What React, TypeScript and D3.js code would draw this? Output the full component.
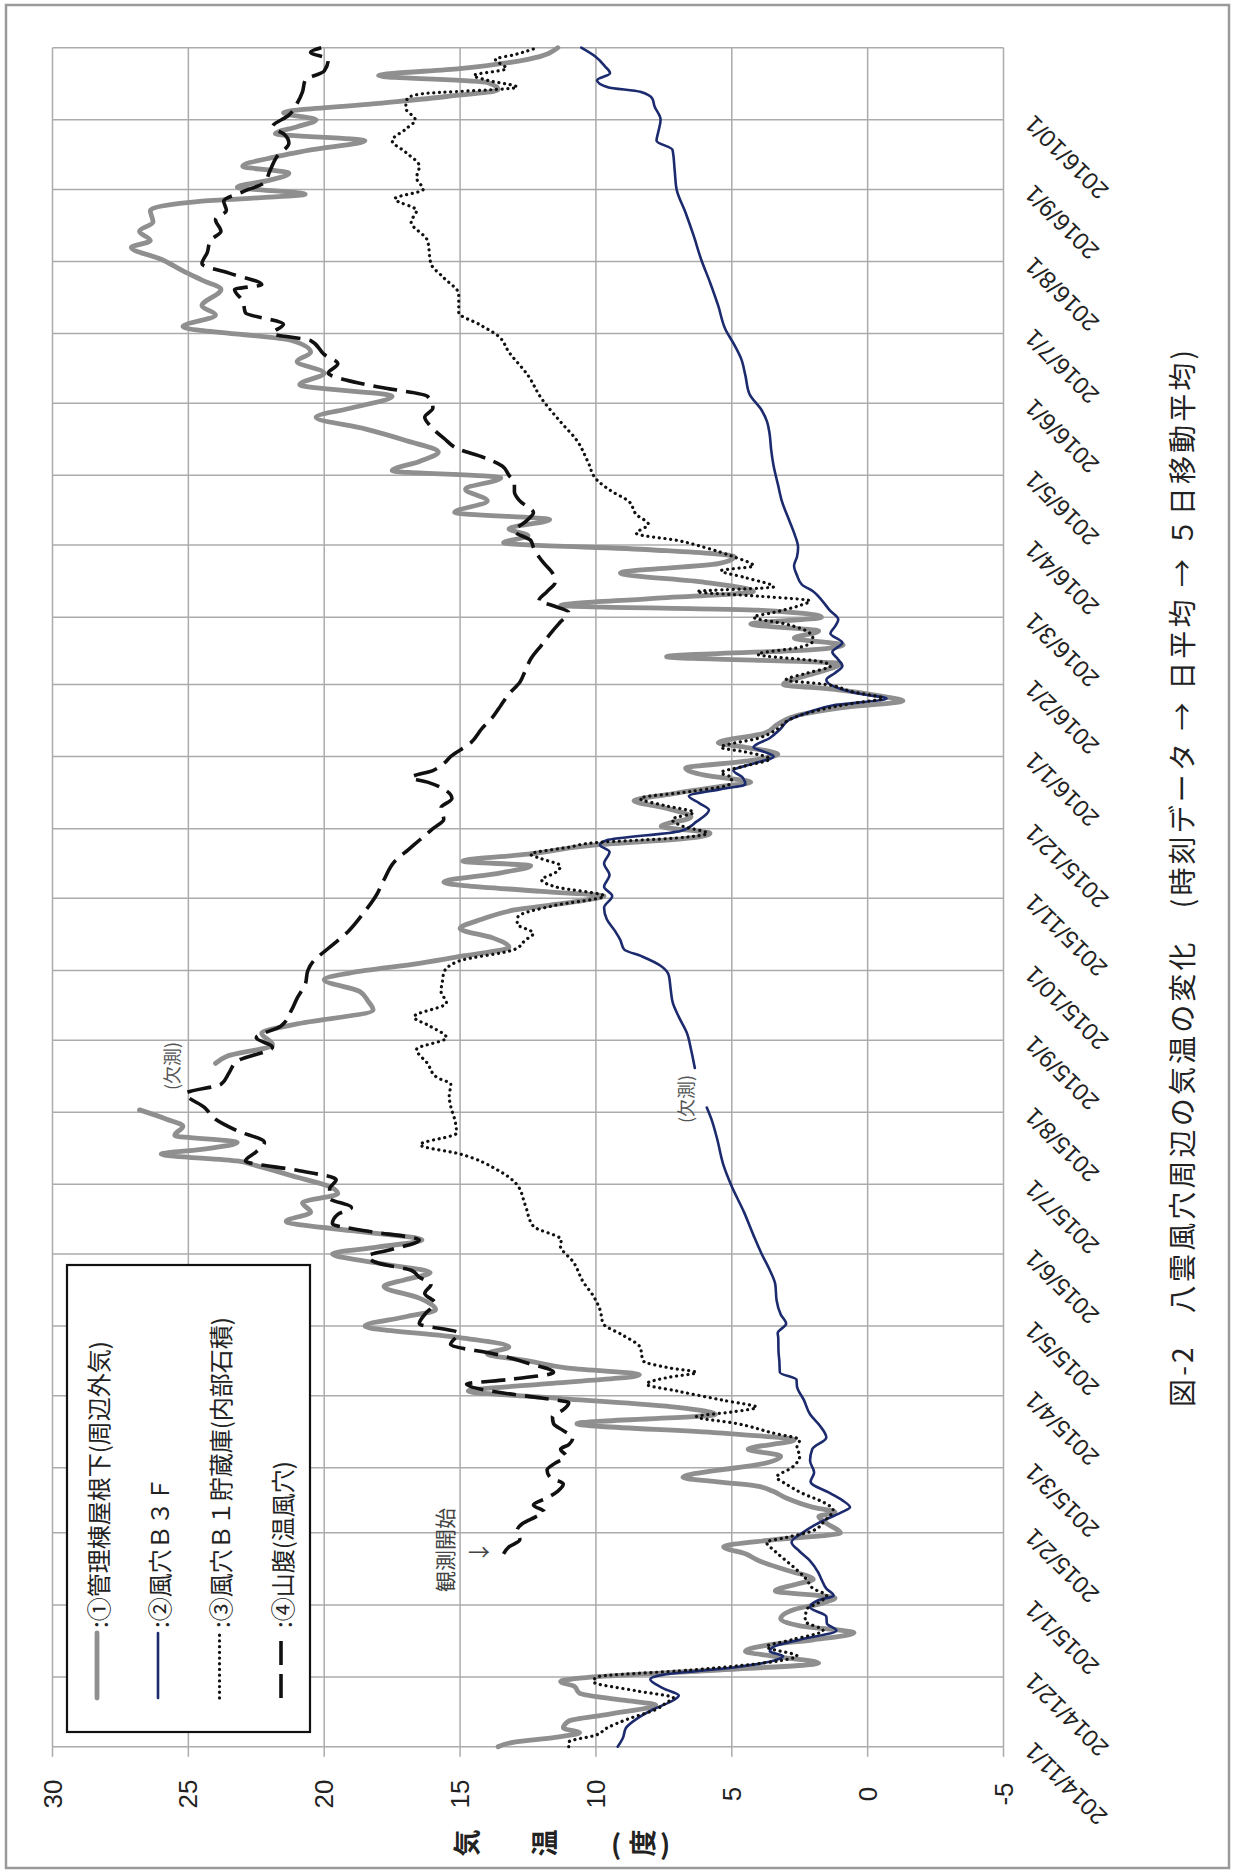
import React from 'react';
import * as d3 from 'd3';

type Pt = [number, number | null]; // [days since 2014/11/1, °C]

const START = new Date(2014, 10, 1);
const END = new Date(2016, 10, 1);

const tempTicks = [30, 25, 20, 15, 10, 5, 0, -5];

// ① 管理棟屋根下(周辺外気)
const outsideAir: Pt[] = [
  [0, 13.6], [2, 13.0], [4, 11.5], [6, 10.6], [8, 11.2], [11, 11.0], [14, 9.5], [18, 7.8], [20, 9.0],
  [23, 10.6], [26, 10.8], [28, 11.3], [30, 10.1], [33, 5.5], [36, 1.8], [39, 3.5], [41, 4.5], [44, 3.5],
  [46, 2.0], [49, 0.5], [52, 2.5], [55, 3.2], [59, 2.7], [62, 1.6], [64, 1.2], [67, 3.4], [70, 2.6],
  [72, 2.0], [76, 3.0], [80, 4.0], [83, 4.5], [86, 5.3], [89, 3.5], [92, 1.0], [96, 1.5], [99, 1.8],
  [101, 1.2], [103, 2.0], [107, 3.0], [110, 3.5], [112, 4.0], [116, 6.8], [119, 5.5], [121, 4.2],
  [125, 3.2], [128, 4.4], [132, 2.7], [135, 5.5], [139, 10.7], [143, 5.6], [146, 7.0], [150, 11.5],
  [153, 14.7], [156, 12.0], [160, 8.4], [163, 11.1], [166, 12.5], [169, 14.0], [172, 13.2], [176, 15.0],
  [181, 18.5], [185, 17.0], [188, 15.9], [193, 16.5], [198, 17.8], [201, 17.0], [204, 16.1], [208, 18.0],
  [212, 19.7], [215, 18.0], [218, 16.4], [222, 19.0], [226, 21.4], [230, 20.5], [234, 20.8], [238, 19.5],
  [241, 19.8], [245, 21.0], [250, 22.5], [252, 23.2], [255, 26.0], [257, 24.5], [260, 23.2], [263, 25.5],
  [267, 25.2], [270, 25.8], [274, 26.8], [275, null], [293, null], [294, 24.0], [297, 23.6], [302, 21.9],
  [307, 22.3], [311, 21.0], [317, 18.2], [321, 18.4], [325, 18.7], [330, 20.0], [333, 19.0], [337, 16.5],
  [340, 15.0], [344, 13.2], [348, 13.8], [352, 15.0], [356, 14.2], [360, 13.0], [364, 10.5], [366, 9.7],
  [368, 12.0], [372, 15.6], [376, 13.5], [379, 12.4], [381, 14.9], [384, 12.5], [388, 10.0], [391, 6.5],
  [393, 5.8], [396, 7.6], [400, 6.5], [404, 7.5], [407, 8.6], [410, 7.2], [413, 5.5], [415, 4.3],
  [418, 6.0], [421, 6.7], [424, 4.5], [427, 3.3], [430, 4.5], [432, 5.5], [436, 3.8], [440, 3.3],
  [444, 2.5], [447, 1.0], [450, -1.3], [452, -0.5], [455, 1.3], [457, 3.1], [460, 2.5], [463, 1.6],
  [466, 1.0], [469, 7.4], [472, 2.0], [474, 0.9], [477, 2.7], [480, 1.8], [483, 4.3], [486, 1.7],
  [489, 4.0], [491, 11.3], [494, 8.0], [497, 4.2], [501, 6.0], [505, 9.1], [509, 5.5], [512, 4.9],
  [515, 8.0], [518, 13.4], [521, 12.5], [524, 13.2], [528, 11.7], [531, 15.2], [536, 14.0], [541, 14.8],
  [546, 13.5], [549, 17.5], [553, 16.5], [557, 15.8], [562, 17.0], [567, 18.5], [572, 20.3], [576, 19.0],
  [581, 17.5], [586, 20.9], [591, 20.0], [596, 21.0], [600, 20.5], [605, 21.2], [611, 25.2], [616, 24.0],
  [620, 24.5], [627, 23.8], [631, 24.5], [635, 25.2], [640, 26.0], [645, 27.1], [648, 26.4], [652, 26.8],
  [656, 26.3], [661, 26.4], [665, 24.5], [668, 20.7], [671, 23.2], [674, 22.0], [677, 21.3], [680, 23.0],
  [684, 21.8], [687, 20.5], [691, 18.5], [694, 21.8], [697, 21.0], [700, 20.3], [703, 21.5], [707, 18.0],
  [710, 15.5], [713, 13.6], [716, 14.0], [719, 18.0], [722, 15.0], [726, 12.5], [731, 11.4],
];

// ② 風穴Ｂ３Ｆ
const caveB3F: Pt[] = [
  [0, 9.2], [4, 9.0], [8, 8.9], [12, 8.5], [16, 7.9], [20, 7.15], [22, 6.95], [25, 7.5], [29, 8.0],
  [31, 7.5], [34, 5.0], [37, 3.47], [39, 3.11], [41, 3.6], [43, 3.46], [46, 2.5], [50, 1.15], [53, 1.5],
  [56, 1.52], [60, 2.12], [63, 1.82], [65, 1.25], [68, 1.52], [72, 1.7], [75, 1.82], [80, 2.12], [84, 2.5],
  [88, 2.8], [92, 2.4], [95, 2.0], [98, 1.5], [101, 0.93], [103, 0.65], [106, 0.93], [109, 1.37],
  [114, 2.1], [118, 1.97], [123, 2.12], [128, 2.04], [133, 1.52], [138, 1.75], [143, 2.12], [149, 2.34],
  [155, 2.6], [158, 2.62], [161, 3.23], [166, 3.25], [170, 3.28], [176, 3.29], [178, 3.31], [182, 3.0],
  [186, 3.2], [192, 3.35], [199, 3.4], [205, 3.6], [212, 3.9], [220, 4.2], [230, 4.55], [241, 5.0],
  [250, 5.3], [262, 5.55], [270, 5.75], [275, 5.92], [276, null], [291, null], [292, 6.36], [300, 6.5],
  [307, 6.65], [314, 6.95], [320, 7.17], [326, 7.25], [332, 7.32], [336, 7.62], [340, 8.3], [343, 8.96],
  [347, 9.1], [351, 9.3], [356, 9.6], [361, 9.7], [366, 9.4], [370, 9.7], [375, 9.5], [380, 9.7],
  [385, 9.5], [388, 9.85], [390, 9.6], [394, 6.88], [398, 6.3], [403, 5.84], [406, 6.2], [409, 6.58],
  [412, 5.4], [414, 4.5], [417, 4.6], [420, 4.94], [423, 4.2], [426, 3.46], [428, 3.8], [430, 4.2],
  [434, 3.6], [438, 3.2], [442, 2.86], [445, 2.2], [448, 1.3], [451, -0.7], [453, 0.3], [456, 1.2],
  [459, 1.52], [462, 1.2], [465, 0.93], [468, 1.1], [471, 1.3], [475, 0.93], [479, 1.37], [482, 1.2],
  [485, 1.08], [489, 1.4], [493, 1.67], [497, 2.0], [500, 2.42], [504, 2.6], [508, 2.71], [512, 2.6],
  [516, 2.56], [522, 2.7], [528, 2.9], [536, 3.16], [543, 3.3], [551, 3.46], [558, 3.55], [565, 3.61],
  [570, 3.7], [575, 3.9], [582, 4.35], [590, 4.5], [597, 4.65], [603, 4.9], [610, 5.24], [620, 5.5],
  [630, 5.8], [640, 6.13], [650, 6.4], [660, 6.7], [670, 7.03], [678, 7.1], [687, 7.18], [691, 7.77],
  [695, 7.7], [700, 7.62], [706, 7.85], [709, 7.92], [712, 8.37], [714, 9.56], [717, 9.96], [720, 9.48],
  [723, 9.67], [727, 10.0], [731, 10.54],
];

// ③ 風穴Ｂ１貯蔵庫(内部石積)
const caveB1Store: Pt[] = [
  [0, 11.0], [2, 11.0], [5, 10.0], [8, 9.6], [12, 8.8], [16, 7.8], [19, 7.4], [21, 7.15], [24, 8.5],
  [28, 10.1], [30, 9.97], [33, 6.5], [37, 3.23], [39, 2.6], [43, 3.72], [46, 2.8], [50, 1.64], [54, 2.3],
  [59, 2.25], [62, 1.8], [65, 1.51], [68, 2.0], [72, 2.25], [76, 2.6], [80, 3.0], [84, 3.4], [88, 3.72],
  [90, 3.0], [93, 2.0], [97, 1.6], [102, 1.27], [105, 1.6], [109, 2.4], [113, 3.0], [116, 3.35], [120, 2.8],
  [125, 2.5], [129, 2.6], [132, 2.5], [135, 3.5], [139, 4.8], [142, 6.3], [144, 5.0], [146, 4.09],
  [149, 5.3], [153, 7.0], [156, 8.14], [159, 7.3], [161, 6.3], [163, 7.3], [166, 8.26], [172, 8.38],
  [177, 9.0], [182, 9.73], [188, 9.85], [194, 10.1], [200, 10.47], [208, 10.8], [216, 11.32], [218, 11.27],
  [224, 12.31], [233, 12.6], [242, 12.92], [248, 13.6], [255, 15.0], [259, 16.47], [264, 15.13],
  [270, 15.2], [274, 15.31], [280, 15.4], [285, 15.34], [288, 15.86], [294, 16.2], [300, 16.6],
  [305, 15.5], [310, 16.1], [314, 16.7], [320, 15.5], [325, 15.7], [330, 15.64], [333, 15.6],
  [338, 15.05], [343, 13.0], [347, 12.6], [350, 12.3], [354, 12.9], [357, 12.87], [362, 11.5],
  [366, 9.7], [370, 11.5], [373, 12.0], [376, 11.5], [379, 11.3], [382, 12.0], [384, 12.4], [387, 11.0],
  [389, 10.0], [391, 7.0], [393, 5.9], [396, 6.8], [399, 7.2], [402, 6.4], [405, 7.5], [408, 8.37],
  [411, 6.5], [414, 5.1], [417, 5.0], [419, 5.4], [422, 4.5], [425, 3.6], [428, 4.5], [430, 5.4],
  [434, 4.0], [438, 3.3], [442, 2.86], [446, 1.8], [449, 0.5], [451, -0.56], [454, 0.6], [457, 1.52],
  [459, 3.0], [462, 2.2], [465, 1.37], [467, 1.8], [470, 4.05], [473, 2.5], [476, 2.0], [479, 2.12],
  [483, 3.0], [486, 4.2], [488, 3.46], [491, 2.5], [493, 2.12], [495, 4.0], [497, 6.28], [499, 3.46],
  [503, 4.5], [506, 5.39], [508, 4.2], [512, 4.94], [516, 6.0], [519, 7.0], [522, 8.51], [526, 8.07],
  [530, 8.5], [536, 8.81], [540, 9.4], [545, 9.96], [553, 10.3], [562, 10.7], [570, 11.3], [580, 12.0],
  [590, 12.5], [600, 13.2], [607, 13.6], [612, 14.3], [617, 15.05], [625, 15.05], [632, 15.6],
  [638, 16.07], [648, 16.2], [656, 16.8], [661, 16.6], [666, 17.4], [670, 16.36], [675, 16.6],
  [680, 16.5], [686, 17.0], [691, 17.5], [696, 17.0], [700, 16.65], [705, 17.0], [709, 16.95],
  [711, 16.5], [714, 12.9], [717, 14.0], [719, 14.5], [722, 13.3], [726, 13.7], [728, 13.0], [731, 12.15],
];

// ④ 山腹(温風穴)  (observation starts 2015/1/23)
const hillside: Pt[] = [
  [83, 13.4], [86, 13.2], [89, 12.8], [93, 12.9], [96, 12.7], [99, 12.2], [101, 11.9], [104, 12.3],
  [107, 11.8], [110, 11.4], [113, 11.2], [116, 11.7], [119, 11.8], [122, 11.5], [125, 11.1], [128, 11.3],
  [130, 11.0], [133, 10.85], [136, 11.2], [139, 11.56], [142, 11.6], [145, 11.2], [148, 11.0], [150, 12.0],
  [152, 13.3], [156, 14.76], [158, 13.2], [161, 11.56], [165, 12.5], [169, 13.74], [173, 15.35],
  [178, 15.05], [182, 16.5], [186, 16.3], [191, 15.93], [195, 16.3], [199, 16.07], [202, 16.5],
  [205, 16.8], [208, 18.0], [211, 18.4], [214, 17.5], [218, 16.5], [222, 18.5], [225, 19.7], [229, 19.5],
  [232, 19.0], [236, 19.8], [240, 19.8], [244, 19.56], [248, 21.0], [252, 22.9], [256, 22.5],
  [260, 22.2], [265, 23.2], [270, 24.0], [275, 24.4], [281, 25.1], [285, 23.8], [290, 23.5], [295, 23.2],
  [301, 21.9], [305, 22.5], [310, 21.6], [317, 21.2], [322, 21.0], [328, 20.7], [334, 20.6], [338, 20.4],
  [343, 19.9], [351, 19.1], [358, 18.6], [366, 18.1], [373, 17.8], [381, 17.4], [386, 16.9], [390, 16.5],
  [395, 16.0], [399, 15.6], [404, 15.7], [408, 15.3], [412, 15.6], [415, 16.2], [417, 16.8], [420, 16.0],
  [423, 15.6], [426, 15.35], [432, 14.6], [438, 14.2], [443, 13.8], [448, 13.5], [453, 13.2], [458, 12.8],
  [463, 12.6], [468, 12.4], [474, 12.0], [480, 11.6], [484, 11.3], [488, 11.0], [491, 11.6], [493, 12.1],
  [497, 11.8], [501, 11.5], [505, 11.6], [509, 11.9], [512, 12.1], [516, 12.3], [519, 12.4], [523, 13.0],
  [527, 12.6], [531, 12.3], [536, 12.8], [540, 13.0], [544, 13.0], [547, 13.2], [551, 13.45], [555, 14.2],
  [558, 15.0], [563, 15.6], [568, 16.07], [572, 16.3], [576, 16.0], [581, 16.2], [585, 18.0], [588, 19.2],
  [591, 19.85], [595, 19.5], [599, 20.0], [605, 20.5], [608, 21.9], [612, 21.5], [617, 22.9], [622, 23.0],
  [627, 23.3], [629, 22.3], [634, 23.5], [638, 24.5], [643, 24.3], [648, 24.2], [652, 23.8], [657, 24.0],
  [661, 23.6], [665, 23.7], [669, 23.0], [673, 22.2], [678, 22.0], [684, 21.75], [690, 21.3], [694, 21.5],
  [697, 21.9], [702, 21.3], [707, 21.0], [712, 20.8], [717, 20.7], [721, 20.0], [726, 19.85], [729, 20.5],
  [731, 20.1],
];

const legendLabels = [
  ':①管理棟屋根下(周辺外気)',
  ':②風穴Ｂ３Ｆ',
  ':③風穴Ｂ１貯蔵庫(内部石積)',
  ':④山腹(温風穴)',
];

const titleText = '図-2　八雲風穴周辺の気温の変化　(時刻データ → 日平均 → ５日移動平均)';
const axisTitleChars = ['気', '温', '(', '度', ')'];

const JP = '"Noto Sans CJK JP", "Noto Sans", sans-serif';
const NUM = '"Liberation Sans", Arial, sans-serif';

const seriesStyles = [
  { data: outsideAir, stroke: '#8f8f8f', width: 4.8, dash: undefined as string | undefined, cap: 'round' },
  { data: caveB3F, stroke: '#1c2a6e', width: 2.6, dash: undefined, cap: 'round' },
  { data: caveB1Store, stroke: '#111', width: 3.2, dash: '0.1 5.6', cap: 'round' },
  { data: hillside, stroke: '#111', width: 3.6, dash: '24 9', cap: 'butt' },
];

export default function App() {
  const W = 1234;
  const H = 1874;

  // chart is drawn rotated: temperature runs right-to-left, dates bottom-to-top
  const x = d3.scaleLinear().domain([-5, 30]).range([1003.5, 52.5]);
  const y = d3.scaleTime().domain([START, END]).range([1746.7, 47.7]);
  const toDate = (d: number) => d3.timeDay.offset(START, d);

  const months = d3.timeMonth.range(START, d3.timeDay.offset(END, 1));
  const labelMonths = months.slice(0, -1);
  const fmt = (d: Date) => `${d.getFullYear()}/${d.getMonth() + 1}/1`;

  const line = d3
    .line<Pt>()
    .defined((d) => d[1] !== null)
    .x((d) => x(d[1] as number))
    .y((d) => y(toDate(d[0])))
    .curve(d3.curveMonotoneY);

  const [xL, xR] = [x(30), x(-5)];
  const [yB, yT] = [y(START), y(END)];

  const legendX = [97, 158, 219.5, 281];
  const legendSample = (i: number) => {
    const s = seriesStyles[i];
    return (
      <line
        key={'ls' + i}
        x1={legendX[i]}
        x2={legendX[i]}
        y1={1698}
        y2={1633}
        stroke={s.stroke}
        strokeWidth={s.width}
        strokeDasharray={s.dash}
        strokeLinecap={s.cap as any}
      />
    );
  };

  const axisTitleX = [465, 543, 616, 641, 665];

  return (
    <svg
      width={W}
      height={H}
      style={{ position: 'absolute', left: 0, top: 0, background: '#fff' }}
    >
      <rect x={6} y={5} width={1223} height={1863} fill="#fff" stroke="#9a9a9a" strokeWidth={2.5} />

      {/* grid: temperature lines (with tick stubs below) */}
      {tempTicks.map((t) => (
        <line key={'v' + t} x1={x(t)} x2={x(t)} y1={yT} y2={yB + 10} stroke="#ababab" strokeWidth={1.5} />
      ))}
      {/* grid: months */}
      {months.map((m) => (
        <line key={'h' + m.getTime()} x1={xL} x2={xR} y1={y(m)} y2={y(m)} stroke="#ababab" strokeWidth={1.5} />
      ))}

      {/* temperature tick labels */}
      {tempTicks.map((t) => (
        <text
          key={'tl' + t}
          x={x(t)}
          y={1794}
          transform={`rotate(-90 ${x(t)} 1794)`}
          textAnchor="middle"
          dominantBaseline="central"
          fontFamily={NUM}
          fontSize={26}
          fill="#222"
        >
          {t}
        </text>
      ))}

      {/* date labels */}
      {labelMonths.map((m) => {
        const px = xR + 25;
        const py = y(m);
        return (
          <text
            key={'dl' + m.getTime()}
            x={px}
            y={py}
            transform={`rotate(-135 ${px} ${py})`}
            textAnchor="end"
            dominantBaseline="central"
            fontFamily={NUM}
            fontSize={24}
            fill="#222"
          >
            {fmt(m)}
          </text>
        );
      })}

      {/* axis title, stacked characters */}
      {axisTitleChars.map((c, i) => {
        const cx = axisTitleX[i];
        const rot = c === '(' || c === ')' ? '' : `rotate(-90 ${cx} 1843)`;
        return (
          <text
            key={'at' + i}
            x={cx}
            y={1843}
            transform={rot}
            textAnchor="middle"
            dominantBaseline="central"
            fontFamily={JP}
            fontSize={27}
            fontWeight="bold"
            fill="#222"
          >
            {c}
          </text>
        );
      })}

      {/* series */}
      {seriesStyles.map((s, i) => (
        <path
          key={'s' + i}
          d={line(s.data) || ''}
          fill="none"
          stroke={s.stroke}
          strokeWidth={s.width}
          strokeDasharray={s.dash}
          strokeLinecap={s.cap as any}
          strokeLinejoin="round"
        />
      ))}

      {/* annotations */}
      <text x={171} y={1066} transform="rotate(-90 171 1066)" textAnchor="middle" dominantBaseline="central"
        fontFamily={JP} fontSize={18} fill="#555">(欠測)</text>
      <text x={685} y={1099} transform="rotate(-90 685 1099)" textAnchor="middle" dominantBaseline="central"
        fontFamily={JP} fontSize={18} fill="#555">(欠測)</text>
      <text x={444} y={1550} transform="rotate(-90 444 1550)" textAnchor="middle" dominantBaseline="central"
        fontFamily={JP} fontSize={21} fill="#444">観測開始</text>
      <text x={479} y={1550} textAnchor="middle" dominantBaseline="central" fontFamily={JP} fontSize={22} fill="#444">
        →
      </text>

      {/* legend */}
      <rect x={67} y={1265} width={243} height={467} fill="#fff" stroke="#111" strokeWidth={2.2} />
      {legendLabels.map((_, i) => legendSample(i))}
      {legendLabels.map((lab, i) => (
        <text
          key={'lt' + i}
          x={legendX[i]}
          y={1628}
          transform={`rotate(-90 ${legendX[i]} 1628)`}
          textAnchor="start"
          dominantBaseline="central"
          fontFamily={JP}
          fontSize={24}
          fill="#222"
        >
          {lab}
        </text>
      ))}

      {/* figure title */}
      <text
        x={1181}
        y={1407}
        transform="rotate(-90 1181 1407)"
        textAnchor="start"
        dominantBaseline="central"
        fontFamily={JP}
        fontSize={28}
        textLength={1057}
        lengthAdjust="spacing"
        fill="#222"
      >
        {titleText}
      </text>
    </svg>
  );
}
